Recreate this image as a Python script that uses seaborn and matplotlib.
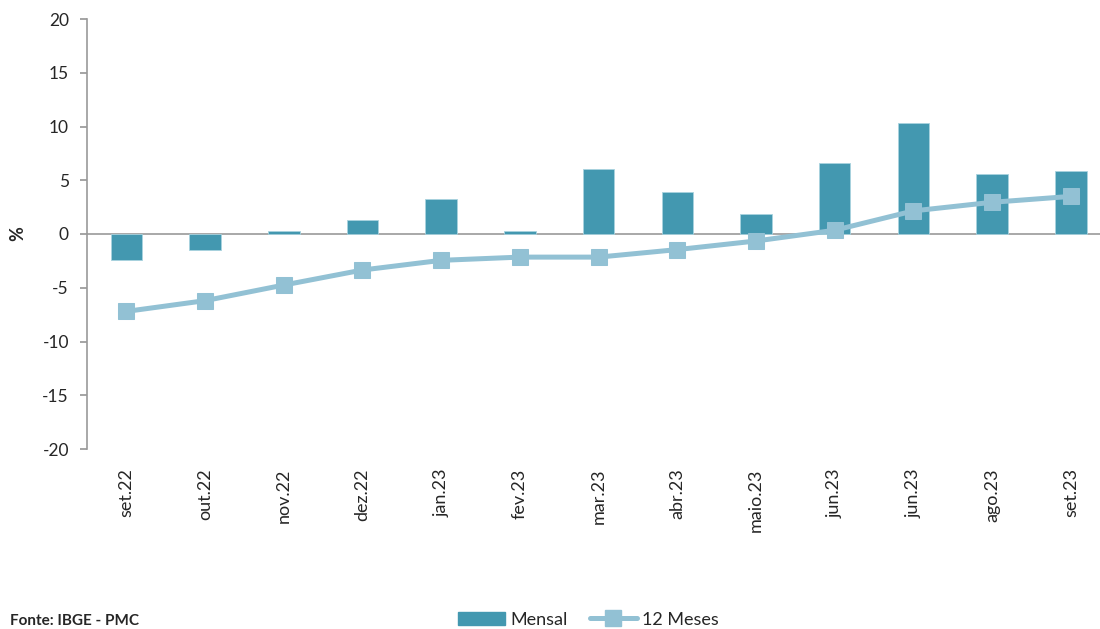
import numpy as np
import pandas as pd
import matplotlib
matplotlib.use("Agg")
import matplotlib.pyplot as plt
import seaborn as sns
from matplotlib.lines import Line2D
from matplotlib.patches import Patch

# --- dados ---
meses = ['set.22', 'out.22', 'nov.22', 'dez.22', 'jan.23', 'fev.23', 'mar.23',
         'abr.23', 'maio.23', 'jun.23', 'jun.23', 'ago.23', 'set.23']
mensal = [-2.4, -1.5, 0.25, 1.3, 3.25, 0.25, 6.05, 3.9, 1.9, 6.65, 10.35, 5.6, 5.9]
doze_meses = [-7.2, -6.2, -4.75, -3.35, -2.45, -2.15, -2.15, -1.45, -0.65, 0.35, 2.15, 2.95, 3.5]
y_ticks = [-20, -15, -10, -5, 0, 5, 10, 15, 20]

COR_BARRA = '#4398B0'
COR_LINHA = '#92C1D4'

sns.set_theme(style="white")
plt.rcParams['font.family'] = ['Lato', 'DejaVu Sans']
plt.rcParams['axes.unicode_minus'] = False

df = pd.DataFrame({'pos': range(len(meses)), 'mensal': mensal, 'doze': doze_meses})

fig = plt.figure(figsize=(11, 6.29), dpi=100)
ax = fig.add_axes([87 / 1100, 1 - 449 / 629, (1100 - 87) / 1100, (449 - 19) / 629])

ax.axhline(0, color='#999999', linewidth=1.2, zorder=0.5)
sns.barplot(data=df, x='pos', y='mensal', color=COR_BARRA, saturation=1,
            width=0.4, edgecolor='#A9D3DF', linewidth=0.6, ax=ax)
sns.lineplot(data=df, x='pos', y='doze', color=COR_LINHA, linewidth=3.6,
             marker='s', markersize=11.5, markeredgecolor=COR_LINHA, ax=ax)

ax.set_ylim(-20, 20)
ax.set_yticks(y_ticks)
ax.set_xlim(-0.5, 12.37)
ax.set_xticks(range(len(meses)))
ax.set_xticklabels(meses, rotation=90, fontsize=13)
ax.tick_params(axis='x', length=0, pad=14)
ax.tick_params(axis='y', length=5, direction='out', color='#999999', labelsize=12.5, pad=8, left=True)
ax.set_xlabel('')
ax.set_ylabel('')
for lado in ['top', 'right', 'bottom']:
    ax.spines[lado].set_visible(False)
ax.spines['left'].set_color('#999999')
ax.spines['left'].set_linewidth(1.2)

fig.text(18 / 1100, 1 - 234 / 629, '%', fontsize=13, fontweight='bold',
         rotation=90, ha='center', va='center')

handles = [Patch(facecolor=COR_BARRA, edgecolor=COR_BARRA),
           Line2D([], [], color=COR_LINHA, linewidth=3.6, marker='s',
                  markersize=11.5)]
fig.legend(handles, ['Mensal', '12 Meses'], loc='center', bbox_to_anchor=(0.535, 0.015),
           ncol=2, frameon=False, fontsize=13, handlelength=2.6, columnspacing=1.2,
           handletextpad=0.3)

fig.text(0.009, 0.012, 'Fonte: IBGE - PMC', fontsize=11, fontweight='bold', va='center')

fig.savefig('out.png', dpi=100)
